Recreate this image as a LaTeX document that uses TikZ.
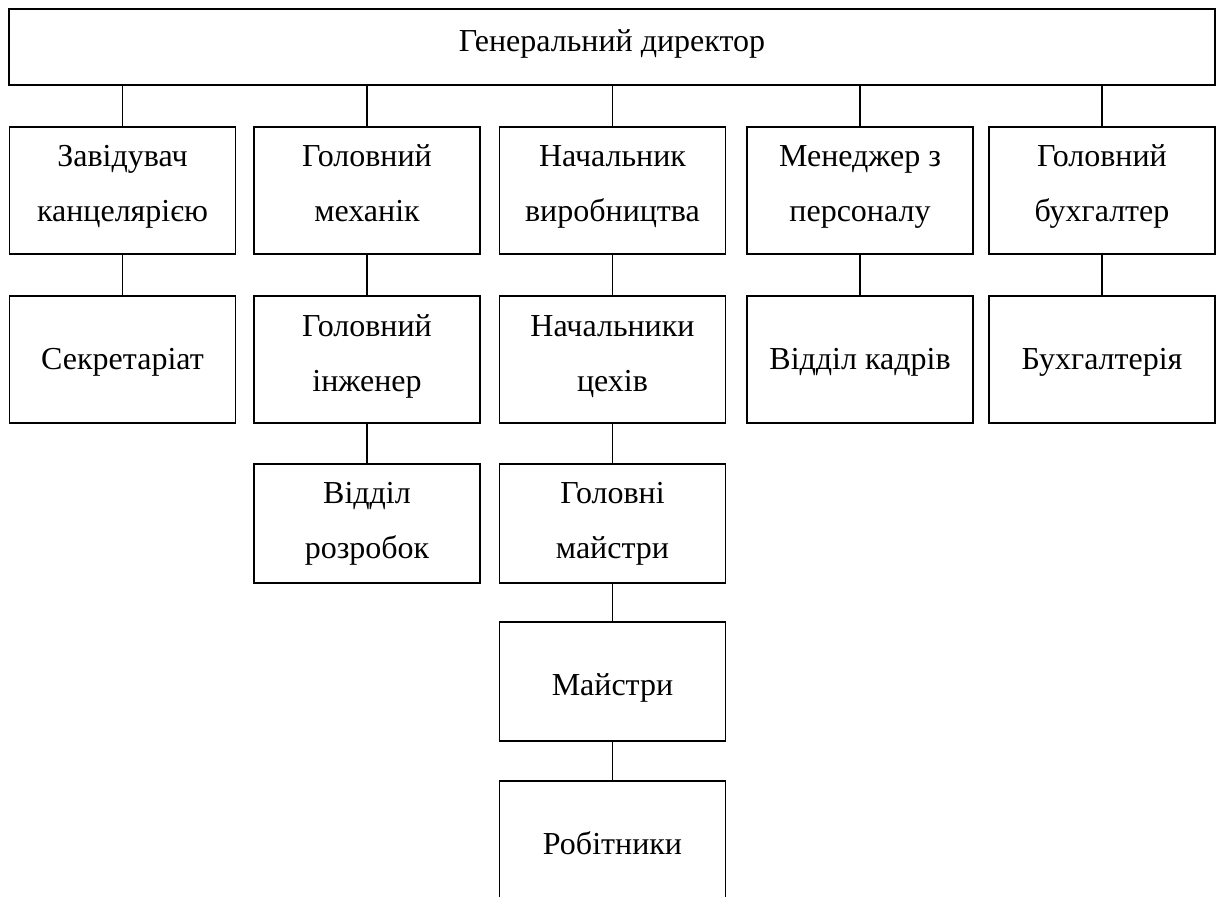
\documentclass[tikz,border=0pt]{standalone}
\usepackage{fontspec}
\setmainfont{Liberation Serif}
\begin{document}
\begin{tikzpicture}[x=1pt,y=-1pt,
  box/.style={draw, line width=1.5pt, rectangle, inner sep=0pt, align=center,
    minimum width=226pt, text depth=8pt, font=\fontsize{32}{55}\selectfont},
  tall/.style={minimum height=127pt},
  short/.style={minimum height=119pt},
  link/.style={line width=1.5pt}]
\useasboundingbox (0,0) rectangle (1216,897);
\clip (-2,-2) rectangle (1218,897);
% top
\node[box, minimum width=1206pt, minimum height=76pt, text height=17.4pt] (gd) at (612,47) {Генеральний директор};
% row 1
\node[box, tall, text height=70.4pt] (zav) at (122.5,190.5) {Завідувач\\канцелярією};
\node[box, tall, text height=70.4pt] (mech) at (367,190.5) {Головний\\механік};
\node[box, tall, text height=70.4pt] (nach) at (612.5,190.5) {Начальник\\виробництва};
\node[box, tall, text height=70.4pt] (men) at (860,190.5) {Менеджер з\\персоналу};
\node[box, tall, text height=70.4pt] (buh) at (1102,190.5) {Головний\\бухгалтер};
% row 2
\node[box, tall, text height=27.6pt] (sec) at (122.5,359.5) {Секретаріат};
\node[box, tall, text height=72.4pt] (eng) at (367,359.5) {Головний\\інженер};
\node[box, tall, text height=72.4pt] (cex) at (612.5,359.5) {Начальники\\цехів};
\node[box, tall, text height=27.6pt] (kadr) at (860,359.5) {Відділ кадрів};
\node[box, tall, text height=27.6pt] (bux) at (1102,359.5) {Бухгалтерія};
% row 3
\node[box, short, text height=77.6pt] (rozr) at (367,523.5) {Відділ\\розробок};
\node[box, short, text height=77.6pt] (gm) at (612.5,523.5) {Головні\\майстри};
% row 4
\node[box, short, text height=35pt] (m) at (612.5,681.5) {Майстри};
% row 5
\node[box, tall, text height=27pt] (rob) at (612.5,844.5) {Робітники};
% connectors
\foreach \c in {zav,mech,nach,men,buh}
  \draw[link] (\c.north) -- (\c.north |- gd.south);
\draw[link] (zav.south) -- (sec.north);
\draw[link] (mech.south) -- (eng.north);
\draw[link] (eng.south) -- (rozr.north);
\draw[link] (nach.south) -- (cex.north);
\draw[link] (cex.south) -- (gm.north);
\draw[link] (gm.south) -- (m.north);
\draw[link] (m.south) -- (rob.north);
\draw[link] (men.south) -- (kadr.north);
\draw[link] (buh.south) -- (bux.north);
\end{tikzpicture}
\end{document}
